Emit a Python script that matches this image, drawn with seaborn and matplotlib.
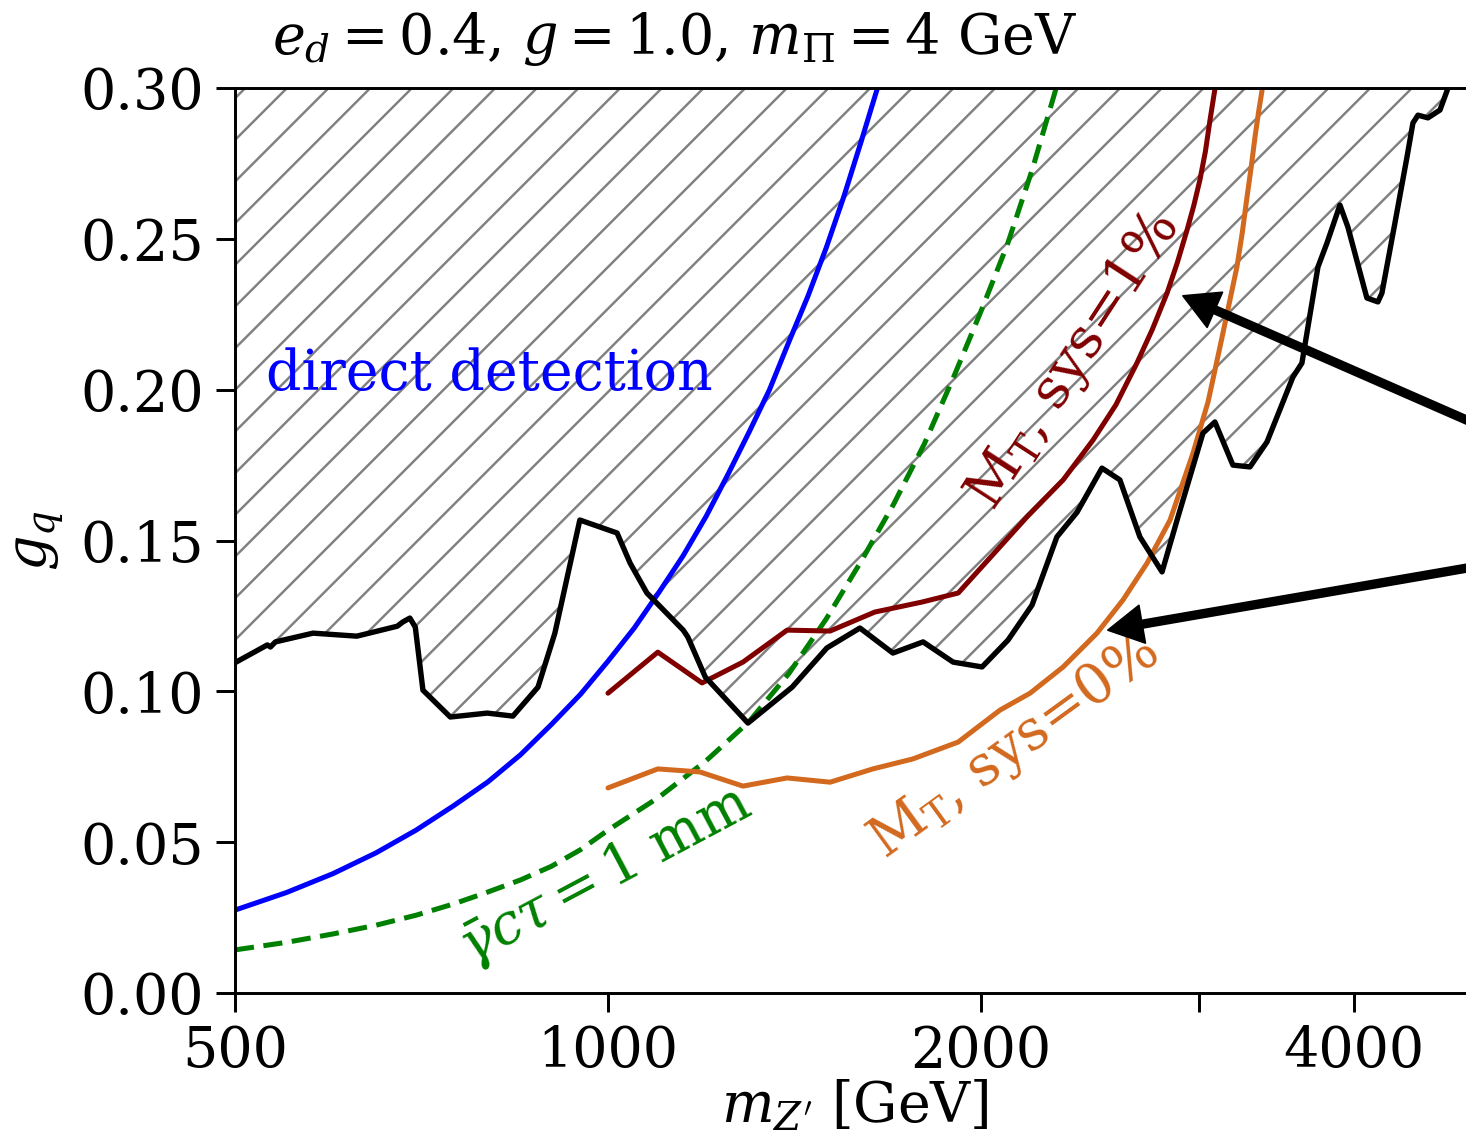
import matplotlib
matplotlib.use("Agg")
import matplotlib.pyplot as plt
import seaborn as sns
from matplotlib.ticker import FixedLocator, NullFormatter, FixedFormatter

# ---------------- data ----------------
excl_m = [500, 531, 534, 539, 578, 627, 676, 683, 692, 699, 709, 746, 799, 838, 878,
          906, 949, 1017, 1042, 1075, 1150, 1160, 1198, 1297, 1408, 1502, 1597, 1698,
          1796, 1899, 2004, 2103, 2199, 2303, 2391, 2504, 2589, 2687, 2800, 2884, 3021,
          3089, 3194, 3297, 3403, 3571, 3631, 3741, 3804, 3897, 3955, 4097, 4182, 4213,
          4316, 4414, 4463, 4505, 4589, 4693, 4764, 4850]
excl_g = [0.1095, 0.1154, 0.1147, 0.1164, 0.1193, 0.1183, 0.1216, 0.1230, 0.1243, 0.1213,
          0.1004, 0.0915, 0.0928, 0.0918, 0.1014, 0.1193, 0.1568, 0.1525, 0.1425, 0.1326,
          0.1203, 0.1180, 0.1048, 0.0895, 0.1014, 0.1144, 0.1210, 0.1127, 0.1164, 0.1097,
          0.1081, 0.1170, 0.1286, 0.1512, 0.1594, 0.1740, 0.1701, 0.1512, 0.1396, 0.1578,
          0.1856, 0.1893, 0.1750, 0.1744, 0.1827, 0.2042, 0.2088, 0.2407, 0.2486, 0.2612,
          0.2539, 0.2304, 0.2291, 0.2320, 0.2552, 0.2771, 0.2884, 0.2910, 0.2901, 0.2927,
          0.3000, 0.3200]

dd_m = [500, 550, 600, 650, 700, 750, 800, 850, 900, 950, 1000, 1050, 1100, 1150, 1200,
        1250, 1300, 1350, 1400, 1450, 1500, 1550, 1600, 1650, 1700]
dd_g = [0.0275, 0.0333, 0.0396, 0.0465, 0.0540, 0.0620, 0.0700, 0.0790, 0.0890, 0.0990,
        0.1100, 0.1210, 0.1330, 0.1450, 0.1580, 0.1720, 0.1860, 0.2000, 0.2160, 0.2310,
        0.2470, 0.2640, 0.2820, 0.3000, 0.3180]

ctau_m = [500, 550, 600, 650, 700, 750, 800, 850, 900, 950, 1000, 1100, 1200, 1300, 1400,
          1500, 1600, 1700, 1800, 1900, 2000, 2100, 2200, 2300, 2350]
ctau_g = [0.0143, 0.0168, 0.0196, 0.0225, 0.0258, 0.0295, 0.0335, 0.0375, 0.0420, 0.0475,
          0.0540, 0.0650, 0.0770, 0.0900, 0.1060, 0.1240, 0.1430, 0.1620, 0.1820, 0.2040,
          0.2260, 0.2480, 0.2730, 0.3000, 0.3140]

mt1_m = [1000, 1097, 1191, 1285, 1395, 1511, 1642, 1792, 1917, 2060, 2178, 2330, 2463,
         2570, 2672, 2750, 2826, 2880, 2933, 2970, 3004, 3035, 3061, 3090, 3110]
mt1_g = [0.0994, 0.1130, 0.1028, 0.1097, 0.1203, 0.1200, 0.1263, 0.1296, 0.1326, 0.1468,
         0.1578, 0.1701, 0.1833, 0.1950, 0.2088, 0.2200, 0.2320, 0.2420, 0.2529, 0.2610,
         0.2695, 0.2790, 0.2894, 0.3000, 0.3100]

mt0_m = [1000, 1097, 1186, 1285, 1395, 1511, 1636, 1762, 1917, 2072, 2191, 2330, 2481,
         2604, 2723, 2842, 2966, 3050, 3118, 3170, 3218, 3250, 3279, 3305, 3328, 3350,
         3372, 3395]
mt0_g = [0.0680, 0.0743, 0.0733, 0.0686, 0.0713, 0.0699, 0.0743, 0.0776, 0.0832, 0.0938,
         0.0994, 0.1081, 0.1193, 0.1303, 0.1425, 0.1568, 0.1790, 0.1960, 0.2141, 0.2280,
         0.2407, 0.2520, 0.2639, 0.2740, 0.2838, 0.2920, 0.2993, 0.3100]

x_ticks = [500, 1000, 2000, 4000]
x_tick_labels = ["500", "1000", "2000", "4000"]
x_minor_ticks = [3000]
y_ticks = [0.00, 0.05, 0.10, 0.15, 0.20, 0.25, 0.30]

# annotations (text anchors and arrows)
arrow1_tip, arrow1_tail = (2911, 0.2311), (5865, 0.1764)
arrow2_tip, arrow2_tail = (2532, 0.1203), (5865, 0.1462)

C_BLUE, C_GREEN, C_RED, C_ORANGE = "blue", "green", "#800000", "#D2691E"

# ---------------- style ----------------
sns.set_style("ticks")
plt.rcParams.update({
    "font.family": ["DejaVu Serif"],
    "mathtext.fontset": "dejavuserif",
    "font.size": 16,
    "text.color": "black",
    "axes.labelcolor": "black",
    "axes.linewidth": 0.85,
    "axes.edgecolor": "black",
    "hatch.linewidth": 0.7,
    "hatch.color": "gray",
    "xtick.color": "black",
    "ytick.color": "black",
    "xtick.major.size": 5.5,
    "ytick.major.size": 5.5,
    "xtick.minor.size": 5.5,
    "xtick.major.width": 0.85,
    "ytick.major.width": 0.85,
    "xtick.minor.width": 0.85,
    "xtick.labelsize": 16,
    "ytick.labelsize": 16,
    "axes.labelsize": 16,
})

fig = plt.figure(figsize=(1466 / 250, 1140 / 250), dpi=250)
ax = fig.add_axes([0.1603, 0.1289, 0.8452, 0.7939])

# excluded region (hatched)
ax.fill_between(excl_m, excl_g, 0.30, facecolor="none", edgecolor="gray",
                hatch="//", linewidth=0)

LW = 1.45
sns.lineplot(x=dd_m, y=dd_g, ax=ax, color=C_BLUE, lw=LW, sort=False, estimator=None)
sns.lineplot(x=ctau_m, y=ctau_g, ax=ax, color=C_GREEN, lw=LW, sort=False,
             estimator=None, linestyle=(0, (3.8, 1.9)))
sns.lineplot(x=mt1_m, y=mt1_g, ax=ax, color=C_RED, lw=LW, sort=False, estimator=None)
sns.lineplot(x=mt0_m, y=mt0_g, ax=ax, color=C_ORANGE, lw=LW, sort=False, estimator=None)
sns.lineplot(x=excl_m, y=excl_g, ax=ax, color="black", lw=1.55, sort=False, estimator=None)

ax.set_xscale("log")
ax.set_xlim(500, 5000)
ax.set_ylim(0, 0.30)
ax.xaxis.set_major_locator(FixedLocator(x_ticks))
ax.xaxis.set_major_formatter(FixedFormatter(x_tick_labels))
ax.xaxis.set_minor_locator(FixedLocator(x_minor_ticks))
ax.xaxis.set_minor_formatter(NullFormatter())
ax.set_yticks(y_ticks)
ax.set_yticklabels([f"{v:.2f}" for v in y_ticks])

ax.set_xlabel(r"$m_{Z'}$ [GeV]", labelpad=0)
ax.set_ylabel(r"$g_q$")

fig.text(0.460, 0.966, r"$e_d = 0.4$, $g = 1.0$, $m_{\Pi} = 4$ GeV",
         ha="center", va="center", fontsize=16)

# curve labels
ax.text(530, 0.200, "direct detection", color=C_BLUE, fontsize=16,
        ha="left", va="baseline")
ax.text(774, 0.0093, r"$\bar{\gamma} c\tau = 1$ mm", color=C_GREEN, fontsize=16,
        rotation=28, rotation_mode="anchor", ha="left", va="baseline")
ax.text(2045, 0.1594, r"M$_\mathrm{T}$, sys=1%", color=C_RED, fontsize=16,
        rotation=57, rotation_mode="anchor", ha="left", va="baseline")
ax.text(1673, 0.0441, r"M$_\mathrm{T}$, sys=0%", color=C_ORANGE, fontsize=16,
        rotation=36, rotation_mode="anchor", ha="left", va="baseline")

arrow_kw = dict(facecolor="black", edgecolor="black", width=2.2, headwidth=11,
                headlength=10, shrink=0.0, linewidth=0.5)
ax.annotate("", xy=arrow1_tip, xytext=arrow1_tail, arrowprops=arrow_kw,
            annotation_clip=False)
ax.annotate("", xy=arrow2_tip, xytext=arrow2_tail, arrowprops=arrow_kw,
            annotation_clip=False)

fig.savefig("out.png", dpi=250)
